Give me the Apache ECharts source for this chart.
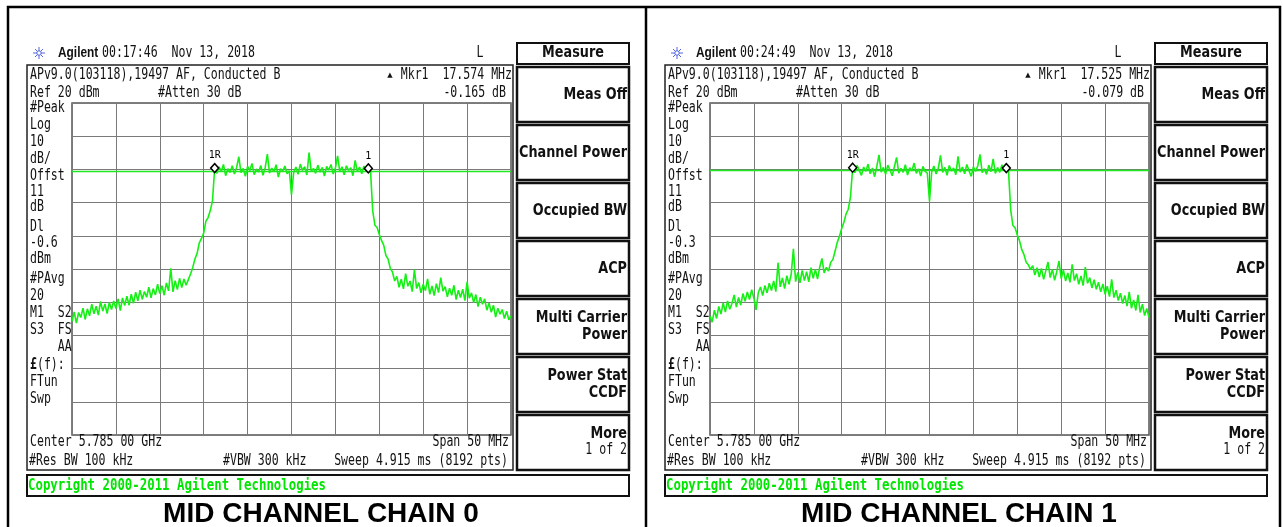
<!DOCTYPE html>
<html>
<head>
<meta charset="utf-8">
<title>MID CHANNEL CHAIN 0 / 1</title>
<script src="https://cdn.jsdelivr.net/npm/echarts@6/dist/echarts.min.js"></script>
<style>
    html, body { margin: 0; padding: 0; background: #fff; }
    #main { width: 1283px; height: 527px; }
</style>
</head>
<body>
<div id="main"></div>
<script type="text/javascript">
    // sweep 5.760 - 5.810 GHz, one value every 0.25 MHz (dBm)
    var freqStart = 5760;
    var freqStep = 0.25;

    var chain0 = [
        -45.8, -42.9, -46.3, -43.1, -44.6, -41.8, -45.2, -42.0, -44.1, -40.6,
        -43.5, -41.2, -43.9, -39.8, -42.7, -40.5, -43.4, -40.1, -42.2, -39.6,
        -41.9, -39.0, -42.5, -38.7, -41.0, -38.2, -40.9, -37.6, -40.3, -37.0,
        -39.6, -36.4, -39.1, -36.8, -38.5, -35.5, -38.7, -35.9, -37.8, -34.6,
        -37.4, -35.0, -37.9, -34.2, -36.6, -29.8, -36.9, -33.5, -36.2, -32.8,
        -35.6, -33.0, -34.9, -33.2, -31.5, -29.6, -27.0, -25.3, -22.1, -20.8,
        -19.2, -15.6, -14.5, -12.4, -9.5, 0.4, -1.2, 0.8, -0.6, 1.5,
        -1.9, 0.2, -0.9, 1.1, -1.4, 0.6, 3.8, -1.0, 0.3, -2.1,
        0.9, -0.4, 1.8, -1.6, 0.1, -0.8, 1.2, -1.8, 0.5, 4.6,
        -1.1, 0.4, -0.7, 1.4, -2.3, 0.2, -0.5, 1.0, -1.3, -0.4,
        -7.6, -0.9, 0.7, -1.5, 1.6, -0.3, 0.8, -1.7, 5.1, -0.6,
        0.3, -1.2, 1.3, -0.8, 0.6, -2.0, 0.9, -0.2, 1.5, -1.4,
        0.4, 4.1, -0.7, 0.8, -1.6, 1.1, -0.3, 0.5, -1.9, 2.7,
        -0.6, 0.7, -1.3, 1.0, -0.5, 0.3, -0.4, -12.5, -16.8, -17.5,
        -19.6, -21.4, -22.8, -25.9, -27.0, -29.8, -30.9, -33.6, -32.2, -35.5,
        -33.1, -36.0, -31.4, -35.2, -33.6, -36.8, -30.2, -35.9, -34.1, -37.2,
        -34.6, -36.5, -33.0, -37.6, -35.1, -38.0, -34.4, -37.1, -32.6, -36.7,
        -35.3, -38.4, -35.8, -37.9, -34.9, -39.2, -36.4, -38.6, -36.1, -39.5,
        -33.9, -38.8, -37.2, -40.1, -37.7, -41.3, -38.5, -40.6, -39.0, -42.4,
        -40.3, -43.0, -40.9, -44.5, -41.8, -43.6, -42.2, -44.9, -42.7, -45.3,
        -44.1
    ];
    var chain1 = [
        -44.2, -46.0, -42.4, -44.9, -41.3, -43.6, -40.2, -43.0, -39.6, -42.1,
        -40.4, -37.8, -41.5, -38.6, -40.9, -37.4, -39.7, -36.9, -39.2, -36.2,
        -38.8, -42.3, -37.1, -35.4, -38.0, -35.0, -37.2, -34.3, -36.5, -33.6,
        -36.8, -28.1, -35.4, -32.7, -35.9, -32.0, -34.6, -31.5, -23.9, -33.8,
        -31.0, -34.2, -30.4, -33.5, -30.8, -33.9, -29.6, -32.8, -30.1, -33.0,
        -29.4, -26.8, -31.2, -29.5, -30.6, -28.0, -27.1, -24.6, -21.9, -20.1,
        -17.8, -15.9, -13.4, -12.0, -8.3, 0.5, -1.0, 1.2, -0.3, -1.8,
        0.7, -0.6, 1.6, -1.3, 0.4, -2.2, 0.9, 4.4, -0.8, 0.6,
        -1.5, 1.3, -0.2, -1.9, 0.8, 3.6, -1.1, 0.3, -0.9, 1.4,
        -1.7, 0.5, -0.4, 1.9, -1.2, 0.2, -2.0, 0.9, -0.6, -1.1,
        -9.6, -0.7, 1.0, -1.4, 0.3, 4.2, -0.9, 0.6, -1.8, 1.2,
        -0.5, 0.4, -1.6, 3.9, -0.8, 0.7, -1.3, 1.5, -0.4, -2.1,
        0.8, -0.6, 1.1, 4.5, -1.0, 0.2, -1.5, 1.3, -0.7, 3.2,
        -1.2, 0.6, -0.9, 1.4, -0.3, 0.4, -0.6, -12.3, -16.9, -17.6,
        -19.8, -21.5, -24.1, -25.6, -27.9, -28.7, -30.2, -29.0, -31.8, -29.6,
        -32.4, -29.8, -33.1, -30.5, -27.9, -32.6, -30.1, -33.4, -30.7, -27.6,
        -32.9, -30.3, -33.6, -31.2, -34.0, -28.6, -33.5, -31.4, -34.6, -32.1,
        -35.0, -29.4, -34.3, -32.6, -35.7, -33.2, -36.1, -34.0, -36.9, -34.5,
        -37.6, -35.2, -38.3, -33.1, -38.6, -36.4, -39.5, -37.3, -40.4, -38.0,
        -41.2, -36.9, -41.8, -39.3, -42.5, -37.8, -43.1, -40.6, -44.0, -41.9,
        -44.6
    ];

    // marker 1R / 1 sit on these sweep points
    var markerIdx = [65, 135];
    var markerNames = ['1R', '1'];
    // display line (dBm)
    var displayLine = [-0.6, -0.3];

    var times = ['00:17:46', '00:24:49'];
    var mkrFreqs = ['17.574 MHz', '17.525 MHz'];
    var mkrAmps = ['-0.165 dB', '-0.079 dB'];
    var dlTexts = ['-0.6', '-0.3'];
    var titles = ['MID CHANNEL CHAIN 0', 'MID CHANNEL CHAIN 1'];

    var MONO = '"DejaVu Sans Mono", monospace';
    var SX = 0.77;

    function mono(x, y, s, align, opt) {
        opt = opt || {};
        return {
            type: 'text', x: x, y: y, scaleX: opt.sx || SX, silent: true, z: 10,
            style: {
                text: s, font: (opt.bold ? 'bold ' : '') + (opt.size || 15) + 'px ' + MONO,
                fill: opt.color || '#111', align: align || 'left', textAlign: align || 'left',
                verticalAlign: 'middle', textVerticalAlign: 'middle', rich: opt.rich
            }
        };
    }
    function key(x, y, s) {
        return {
            type: 'text', x: x, y: y, scaleX: 0.8, silent: true, z: 10,
            style: {
                text: s, font: 'bold 16px "DejaVu Sans", sans-serif', fill: '#111',
                align: 'right', textAlign: 'right', verticalAlign: 'middle', textVerticalAlign: 'middle'
            }
        };
    }
    function box(x, y, w, h, lw, color) {
        return {
            type: 'rect', silent: true, z: 5,
            shape: {x: x, y: y, width: w, height: h},
            style: {fill: 'none', stroke: color || '#111', lineWidth: lw}
        };
    }
    function seg(x1, y1, x2, y2, lw, color) {
        return {
            type: 'line', silent: true, z: 5,
            shape: {x1: x1, y1: y1, x2: x2, y2: y2},
            style: {stroke: color, lineWidth: lw}
        };
    }

    // left annotation column of the analyser screen
    var leftCol = [
        ['#Peak', 108], ['Log', 125], ['10', 142], ['dB/', 159], ['Offst', 176],
        ['11', 192], ['dB', 207], ['Dl', 227], [null, 243], ['dBm', 259],
        ['#PAvg', 279], ['20', 296], ['M1  S2', 313], ['S3  FS', 330], ['    AA', 347],
        ['£(f):', 365], ['FTun', 382], ['Swp', 399]
    ];
    var softKeys = [
        ['Meas Off'], ['Channel Power'], ['Occupied BW'], ['ACP'],
        ['Multi Carrier', 'Power'], ['Power Stat', 'CCDF'], ['More']
    ];

    var graphic = [];
    graphic.push(box(8, 7, 1272, 530, 2.5, '#000'));
    graphic.push(seg(646, 7, 646, 527, 2.5, '#000'));

    [0, 638].forEach(function (dx, p) {
        // agilent logo
        var cx = dx + 39, cy = 53;
        graphic.push(seg(cx - 6, cy, cx + 6, cy, 1, '#5566e0'));
        graphic.push(seg(cx, cy - 6, cx, cy + 6, 1, '#5566e0'));
        graphic.push(seg(cx - 4, cy - 4, cx + 4, cy + 4, 1, '#5566e0'));
        graphic.push(seg(cx - 4, cy + 4, cx + 4, cy - 4, 1, '#5566e0'));
        graphic.push({type: 'circle', silent: true, z: 6, shape: {cx: cx, cy: cy, r: 2.2},
            style: {fill: '#fff', stroke: '#5566e0', lineWidth: 1}});
        graphic.push({type: 'text', x: dx + 58, y: 53, scaleX: 0.85, silent: true, z: 10,
            style: {text: 'Agilent', font: 'bold 14px "Liberation Sans", Arial, sans-serif', fill: '#111',
                align: 'left', textAlign: 'left', verticalAlign: 'middle', textVerticalAlign: 'middle'}});
        graphic.push(mono(dx + 102, 53, times[p] + '  Nov 13, 2018'));
        graphic.push(mono(dx + 480, 53, 'L', 'center'));

        // screen frame
        graphic.push(box(dx + 27, 65, 486, 405, 1.5, '#222'));
        graphic.push(mono(dx + 30, 75, 'APv9.0(103118),19497 AF, Conducted B'));
        graphic.push({type: 'text', x: dx + 390, y: 75, silent: true, z: 10,
            style: {text: '▲', font: '7px "DejaVu Sans"', fill: '#111', align: 'center', textAlign: 'center',
                verticalAlign: 'middle', textVerticalAlign: 'middle'}});
        graphic.push(mono(dx + 512, 75, 'Mkr1  ' + mkrFreqs[p], 'right'));
        graphic.push(mono(dx + 30, 93, 'Ref 20 dBm'));
        graphic.push(mono(dx + 158, 93, '#Atten 30 dB'));
        graphic.push(mono(dx + 506, 93, mkrAmps[p], 'right'));

        leftCol.forEach(function (row) {
            var s = row[0] === null ? dlTexts[p] : row[0];
            if (s === '£(f):') {
                graphic.push(mono(dx + 30, row[1], '{b|£}(f):', 'left',
                    {rich: {b: {font: 'bold 15px ' + MONO, fill: '#111'}}}));
            } else {
                graphic.push(mono(dx + 30, row[1], s));
            }
        });

        graphic.push(mono(dx + 30, 442, 'Center 5.785 00 GHz'));
        graphic.push(mono(dx + 509, 442, 'Span 50 MHz', 'right'));
        graphic.push(mono(dx + 29, 461, '#Res BW 100 kHz'));
        graphic.push(mono(dx + 223, 461, '#VBW 300 kHz'));
        graphic.push(mono(dx + 508, 461, 'Sweep 4.915 ms (8192 pts)', 'right'));

        // soft keys
        graphic.push(box(dx + 517, 43, 112, 21, 2, '#111'));
        graphic.push({type: 'text', x: dx + 573, y: 53, scaleX: 0.8, silent: true, z: 10,
            style: {text: 'Measure', font: 'bold 16px "DejaVu Sans", sans-serif', fill: '#111',
                align: 'center', textAlign: 'center', verticalAlign: 'middle', textVerticalAlign: 'middle'}});
        softKeys.forEach(function (k, i) {
            var top = 67 + i * 58;
            graphic.push(box(dx + 517, top, 112, 55, 2.5, '#111'));
            if (k.length === 1) {
                graphic.push(key(dx + 627, i === 6 ? top + 19 : top + 28, k[0]));
            } else {
                graphic.push(key(dx + 627, top + 19, k[0]));
                graphic.push(key(dx + 627, top + 36, k[1]));
            }
        });
        graphic.push(mono(dx + 627, 450, '1 of 2', 'right'));

        // copyright bar
        graphic.push(box(dx + 27, 475, 602, 21, 2, '#111'));
        graphic.push(mono(dx + 28, 486, 'Copyright 2000-2011 Agilent Technologies', 'left',
            {bold: true, color: '#00e600', sx: 0.825}));

        graphic.push({type: 'text', x: dx + 321, y: 514, silent: true, z: 10,
            style: {text: titles[p], font: 'bold 28px "Liberation Sans", Arial, sans-serif', fill: '#000',
                align: 'center', textAlign: 'center', verticalAlign: 'middle', textVerticalAlign: 'middle'}});
    });

    function toPairs(vals) {
        return vals.map(function (v, i) { return [freqStart + i * freqStep, v]; });
    }

    var chains = [chain0, chain1];
    var grids = [], xAxes = [], yAxes = [], series = [];
    chains.forEach(function (vals, p) {
        var pairs = toPairs(vals);
        grids.push({left: 72 + p * 638, top: 103, width: 439, height: 332,
            show: true, borderColor: '#555', borderWidth: 1.5, backgroundColor: '#fff'});
        xAxes.push({type: 'value', gridIndex: p, min: 5760, max: 5810, interval: 5,
            axisLine: {show: false}, axisTick: {show: false}, axisLabel: {show: false},
            splitLine: {show: true, lineStyle: {color: '#7a7a7a', width: 1}}});
        yAxes.push({type: 'value', gridIndex: p, min: -80, max: 20, interval: 10,
            axisLine: {show: false}, axisTick: {show: false}, axisLabel: {show: false},
            splitLine: {show: true, lineStyle: {color: '#7a7a7a', width: 1}}});
        series.push({
            type: 'line', xAxisIndex: p, yAxisIndex: p, data: pairs,
            showSymbol: false, symbol: 'none', silent: true, z: 3,
            lineStyle: {color: '#14f014', width: 1.6},
            markLine: {
                silent: true, symbol: ['none', 'none'], label: {show: false}, z: 4,
                lineStyle: {color: '#22e622', width: 1.4, type: 'solid', opacity: 1},
                data: [{yAxis: displayLine[p]}]
            },
            markPoint: {
                silent: true, symbol: 'diamond', symbolSize: [8, 9], z: 5,
                itemStyle: {color: '#fff', borderColor: '#000', borderWidth: 1.5},
                label: {show: true, position: 'top', distance: 2, color: '#000',
                    fontSize: 10, fontFamily: MONO, formatter: '{b}'},
                data: markerIdx.map(function (idx, k) {
                    return {name: markerNames[k], coord: pairs[idx]};
                })
            }
        });
    });

    var myChart = echarts.init(document.getElementById('main'));
    var option = {
        animation: false,
        backgroundColor: '#fff',
        grid: grids,
        xAxis: xAxes,
        yAxis: yAxes,
        series: series,
        graphic: graphic
    };
    myChart.setOption(option);
</script>
</body>
</html>
